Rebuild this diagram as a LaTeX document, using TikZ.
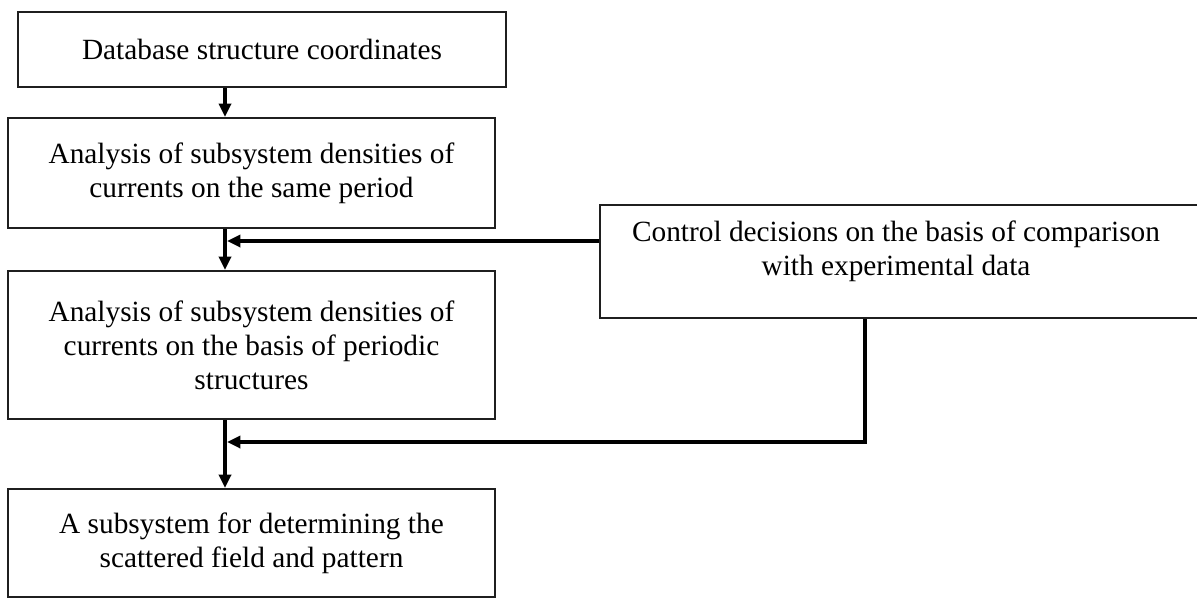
\documentclass[tikz,border=0pt]{standalone}
\usepackage{fontspec}
\setmainfont{Liberation Serif}
\usetikzlibrary{arrows.meta}
\begin{document}
\begin{tikzpicture}[x=0.75pt,y=-0.75pt,
  box/.style={draw=black!88, line width=1.5pt, rectangle, inner sep=0pt,
    font=\fontsize{22}{25.5}\selectfont, align=center},
  lbl/.style={inner sep=0pt, font=\fontsize{22}{25.5}\selectfont, align=center},
  conn/.style={line width=2.6pt, draw=black},
  tip/.style={-{Triangle[length=10pt,width=9pt]}}]
\clip (0,0) rectangle (1197,600);
\useasboundingbox (0,0) rectangle (1197,600);
\fill[white] (0,0) rectangle (1197,600);

\node[box, minimum width=366pt, minimum height=56.25pt] (b1) at (262,49.5) {Database structure coordinates};
\node[box, minimum width=365.25pt, minimum height=82.5pt] (b2) at (251.5,173) {Analysis of subsystem densities of\\currents on the same period};
\node[box, minimum width=365.25pt, minimum height=111pt] (b3) at (251.5,345) {Analysis of subsystem densities of\\currents on the basis of periodic\\structures};
\node[box, minimum width=365.25pt, minimum height=81pt] (b4) at (251.5,543) {A subsystem for determining the\\scattered field and pattern};
\node[box, minimum width=454.5pt, minimum height=84.75pt] (ctrl) at (903,261.5) {};
\node[lbl] (ctrlt) at (896,251) {Control decisions on the basis of comparison\\with experimental data};

\coordinate (tx) at (225,0);
\coordinate (cx) at (865,0);
\coordinate (j1) at (227,241);
\coordinate (j2) at (227,442);

\draw[conn,tip] (b1.south -| tx) -- (b2.north -| tx);
\draw[conn,tip] (b2.south -| tx) -- (b3.north -| tx);
\draw[conn,tip] (b3.south -| tx) -- (b4.north -| tx);
\draw[conn,tip] (ctrl.west |- j1) -- (j1);
\draw[conn,tip] (ctrl.south -| cx) |- (j2);
\end{tikzpicture}
\end{document}
